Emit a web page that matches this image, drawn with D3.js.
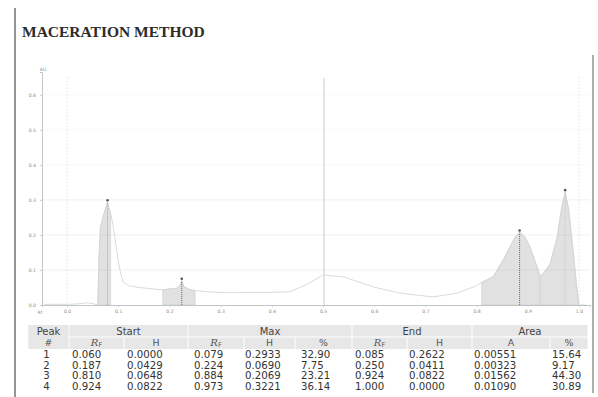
<!DOCTYPE html>
<html>
<head>
<meta charset="utf-8">
<script src="https://cdn.jsdelivr.net/npm/d3@7"></script>
<style>
  html, body { margin: 0; padding: 0; background: #fff; }
  svg { display: block; }
</style>
</head>
<body>
<svg id="chart" width="598" height="397"></svg>
<script>
// Densitogram of the lane (Rf position vs absorbance units)
const traceRf = [-0.045, 0.000, 0.020, 0.040, 0.050, 0.060, 0.062, 0.065, 0.070, 0.075, 0.079, 0.082, 0.085,
  0.090, 0.095, 0.100, 0.105, 0.110, 0.120, 0.140, 0.160, 0.187, 0.200, 0.215, 0.220, 0.224, 0.228, 0.240, 0.250,
  0.280, 0.320, 0.360, 0.400, 0.436, 0.470, 0.500, 0.540, 0.600, 0.650, 0.715, 0.762, 0.800, 0.810,
  0.832, 0.852, 0.866, 0.876, 0.884, 0.894, 0.904, 0.918, 0.924, 0.930, 0.943, 0.957, 0.966, 0.973,
  0.980, 0.988, 0.995, 1.000, 1.015];
const traceAU = [0.002, 0.002, 0.003, 0.006, 0.004, 0.000, 0.120, 0.220, 0.250, 0.275, 0.2933, 0.275, 0.2622,
  0.225, 0.175, 0.125, 0.088, 0.065, 0.055, 0.050, 0.047, 0.0429, 0.046, 0.048, 0.055, 0.0690, 0.052, 0.044, 0.0411,
  0.037, 0.035, 0.036, 0.036, 0.038, 0.060, 0.086, 0.080, 0.051, 0.034, 0.023, 0.034, 0.055, 0.0648,
  0.080, 0.129, 0.168, 0.196, 0.2069, 0.195, 0.166, 0.109, 0.0822, 0.090, 0.115, 0.190, 0.275, 0.3221,
  0.270, 0.160, 0.060, 0.000, 0.000];

// Integration results per peak
const peakNo   = [1, 2, 3, 4];
const startRf  = [0.060, 0.187, 0.810, 0.924];
const startH   = [0.0000, 0.0429, 0.0648, 0.0822];
const maxRf    = [0.079, 0.224, 0.884, 0.973];
const maxH     = [0.2933, 0.0690, 0.2069, 0.3221];
const maxPct   = [32.90, 7.75, 23.21, 36.14];
const endRf    = [0.085, 0.250, 0.924, 1.000];
const endH     = [0.2622, 0.0411, 0.0822, 0.0000];
const areaA    = [0.00551, 0.00323, 0.01562, 0.01090];
const areaPct  = [15.64, 9.17, 44.30, 30.89];

// Axis ticks and reference positions
const yTicks = [0, 0.1, 0.2, 0.3, 0.4, 0.5, 0.6];
const xTicks = [0, 0.1, 0.2, 0.3, 0.4, 0.5, 0.6, 0.7, 0.8, 0.9, 1.0];
const guideRf = [0.0, 0.502, 1.0];

const title = "MACERATION METHOD";

const svg = d3.select("#chart");

// page edges
svg.append("line").attr("x1", 15).attr("x2", 15).attr("y1", 8).attr("y2", 397)
  .attr("stroke", "#7a7a7a").attr("stroke-width", 1.6);
svg.append("line").attr("x1", 593).attr("x2", 593).attr("y1", 55).attr("y2", 393)
  .attr("stroke", "#9a9a9a").attr("stroke-width", 1.6);

svg.append("text").attr("x", 22).attr("y", 37)
  .attr("font-family", "'Liberation Serif', 'Times New Roman', serif")
  .attr("font-weight", "bold").attr("font-size", 15.5).attr("fill", "#2b2b2b")
  .text(title);

const x = d3.scaleLinear().domain([-0.049, 1.0215]).range([42, 590]);
const y = d3.scaleLinear().domain([0, 0.665]).range([305, 72]);

const trace = traceRf.map((r, i) => [r, traceAU[i]]);

// horizontal grid
svg.append("g").selectAll("line").data(yTicks.slice(1)).join("line")
  .attr("x1", 42).attr("x2", 590)
  .attr("y1", d => y(d)).attr("y2", d => y(d))
  .attr("stroke", "rgba(0,0,0,0.035)").attr("stroke-width", 0.8);

// reference verticals (start line, mid marker, front)
svg.append("g").selectAll("line").data(guideRf).join("line")
  .attr("x1", d => x(d)).attr("x2", d => x(d))
  .attr("y1", (d, i) => i === 1 ? 78 : 77).attr("y2", y(0))
  .attr("stroke", (d, i) => i === 1 ? "#cbcbcb" : "#e0e0e0")
  .attr("stroke-width", (d, i) => i === 1 ? 1 : 0.9)
  .attr("stroke-dasharray", (d, i) => i === 1 ? null : "1.5,2");

// integrated peak areas
const area = d3.area().x(d => x(d[0])).y0(y(0)).y1(d => y(d[1]));
const peaks = peakNo.map((p, i) => {
  const inner = trace.filter(d => d[0] > startRf[i] && d[0] < endRf[i]);
  return [[startRf[i], startH[i]], ...inner, [endRf[i], endH[i]]];
});
svg.append("g").selectAll("path").data(peaks).join("path")
  .attr("d", area)
  .attr("fill", "#e1e1e1").attr("stroke", "#d0d0d0").attr("stroke-width", 0.7);

// grid again on top of fills, only visible against the grey
svg.append("g").selectAll("line").data(yTicks.slice(1, 4)).join("line")
  .attr("x1", 42).attr("x2", 590)
  .attr("y1", d => y(d)).attr("y2", d => y(d))
  .attr("stroke", "rgba(0,0,0,0.05)").attr("stroke-width", 0.8);

// densitogram trace
svg.append("path").datum(trace)
  .attr("d", d3.line().x(d => x(d[0])).y(d => y(d[1])))
  .attr("fill", "none").attr("stroke", "#d6d6d6").attr("stroke-width", 0.9);

// peak maxima: the two middle peaks carry the darker drop lines
const dropTone = ["#a0a0a0", "#555", "#5c5c5c", "#c4c4c4"];
const mk = svg.append("g");
mk.selectAll("line").data(peakNo).join("line")
  .attr("x1", (d, i) => x(maxRf[i])).attr("x2", (d, i) => x(maxRf[i]))
  .attr("y1", y(0)).attr("y2", (d, i) => y(maxH[i]))
  .attr("stroke", (d, i) => dropTone[i]).attr("stroke-width", 0.8).attr("stroke-dasharray", "1.2,0.8");
mk.selectAll("circle").data(peakNo).join("circle")
  .attr("cx", (d, i) => x(maxRf[i])).attr("cy", (d, i) => y(maxH[i]) - 2)
  .attr("r", 1.3).attr("fill", "#555");

// axes
const tickFont = "'DejaVu Sans', sans-serif";
const yAxis = svg.append("g").attr("transform", `translate(42,0)`)
  .call(d3.axisLeft(y).tickValues(yTicks).tickFormat(d3.format(".1f")).tickSize(2).tickPadding(4));
const xAxis = svg.append("g").attr("transform", `translate(0,${y(0)})`)
  .call(d3.axisBottom(x).tickValues(xTicks).tickFormat(d3.format(".1f")).tickSize(2).tickPadding(3));
[yAxis, xAxis].forEach(g => {
  g.select(".domain").attr("stroke", "#bdbdbd").attr("stroke-width", 0.9);
  g.selectAll(".tick line").attr("stroke", "#cfcfcf");
  g.selectAll(".tick text").attr("font-family", tickFont).attr("font-size", 4.6).attr("fill", "#8a8a8a");
});
svg.append("text").attr("x", 43).attr("y", 71).attr("text-anchor", "middle")
  .attr("font-family", tickFont).attr("font-size", 4.6).attr("fill", "#8a8a8a").text("AU");
svg.append("text").attr("x", 40).attr("y", 314).attr("text-anchor", "middle")
  .attr("font-family", tickFont).attr("font-size", 4.6).attr("fill", "#8a8a8a").text("Rf");

// results table
const tfont = "'DejaVu Sans', Verdana, sans-serif";
const cols = [
  { x0: 28,  x1: 69,  head: "#",  vals: peakNo,   fmt: d => d,              vx: null },
  { x0: 69,  x1: 124, head: "RF", vals: startRf,  fmt: d3.format(".3f"),    vx: 72 },
  { x0: 124, x1: 188, head: "H",  vals: startH,   fmt: d3.format(".4f"),    vx: 127 },
  { x0: 188, x1: 244, head: "RF", vals: maxRf,    fmt: d3.format(".3f"),    vx: 194 },
  { x0: 244, x1: 295, head: "H",  vals: maxH,     fmt: d3.format(".4f"),    vx: 245 },
  { x0: 295, x1: 352, head: "%",  vals: maxPct,   fmt: d3.format(".2f"),    vx: 301 },
  { x0: 352, x1: 407, head: "RF", vals: endRf,    fmt: d3.format(".3f"),    vx: 355 },
  { x0: 407, x1: 472, head: "H",  vals: endH,     fmt: d3.format(".4f"),    vx: 409 },
  { x0: 472, x1: 550, head: "A",  vals: areaA,    fmt: d3.format(".5f"),    vx: 474 },
  { x0: 550, x1: 588, head: "%",  vals: areaPct,  fmt: d3.format(".2f"),    vx: 552 }
];
const groups = [
  { x0: 28, x1: 69, label: "Peak" },
  { x0: 69, x1: 188, label: "Start" },
  { x0: 188, x1: 352, label: "Max" },
  { x0: 352, x1: 472, label: "End" },
  { x0: 472, x1: 588, label: "Area" }
];
const tbl = svg.append("g");
const bandFill = "#e7e7e7";
tbl.selectAll("rect.g").data(groups).join("rect").attr("class", "g")
  .attr("x", d => d.x0 + 0.5).attr("width", d => d.x1 - d.x0 - 1)
  .attr("y", 325).attr("height", 11.5).attr("fill", bandFill);
tbl.selectAll("rect.s").data(cols).join("rect").attr("class", "s")
  .attr("x", d => d.x0 + 0.5).attr("width", d => d.x1 - d.x0 - 1)
  .attr("y", 337.5).attr("height", 11.5).attr("fill", bandFill);
// Peak column spans both rows
tbl.append("rect").attr("x", 28.5).attr("width", 40).attr("y", 325).attr("height", 24).attr("fill", bandFill);

tbl.selectAll("text.g").data(groups).join("text").attr("class", "g")
  .attr("x", d => (d.x0 + d.x1) / 2).attr("y", 335.2).attr("text-anchor", "middle")
  .attr("font-family", tfont).attr("font-size", 10).attr("fill", "#444").text(d => d.label);

const sh = tbl.selectAll("text.s").data(cols).join("text").attr("class", "s")
  .attr("x", d => (d.x0 + d.x1) / 2).attr("y", 345.8).attr("text-anchor", "middle")
  .attr("font-family", tfont).attr("font-size", 9.4).attr("fill", "#555");
sh.each(function(d) {
  const t = d3.select(this);
  if (d.head === "RF") {
    t.append("tspan").attr("font-style", "italic").attr("font-family", "'DejaVu Serif', serif").attr("font-size", 10).text("R");
    t.append("tspan").attr("font-size", 6.5).attr("dy", 1.0).text("F");
  } else {
    t.text(d.head);
  }
});

cols.forEach(c => {
  tbl.append("g").selectAll("text").data(c.vals).join("text")
    .attr("x", c.vx === null ? (c.x0 + c.x1) / 2 - 2 : c.vx)
    .attr("y", (d, i) => 358.3 + i * 10.45)
    .attr("text-anchor", c.vx === null ? "middle" : "start")
    .attr("font-family", tfont).attr("font-size", 10.2).attr("fill", "#333")
    .text(d => c.fmt(d));
});
</script>
</body>
</html>
